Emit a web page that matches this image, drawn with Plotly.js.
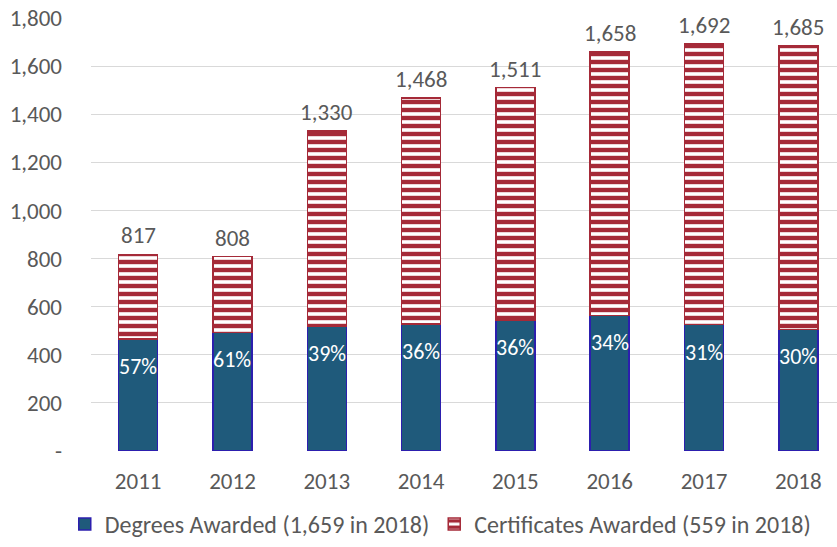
<!DOCTYPE html>
<html>
<head>
<meta charset="utf-8">
<script src="https://cdn.plot.ly/plotly-3.0.1.min.js"></script>
<style>html,body{margin:0;padding:0;background:#fff;}#chart{width:837px;height:547px;}</style>
</head>
<body>
<div id="chart"></div>
<script>
const years = ['2011','2012','2013','2014','2015','2016','2017','2018'];
const degrees = [466, 493, 519, 528, 544, 564, 525, 506];
const certificates = [351, 315, 811, 940, 967, 1094, 1167, 1179];
const pctLabels = ['57%','61%','39%','36%','36%','34%','31%','30%'];
const totalLabels = ['817','808','1,330','1,468','1,511','1,658','1,692','1,685'];
const yTickVals = [0,200,400,600,800,1000,1200,1400,1600,1800];
const yTickText = ['-','200','400','600','800','1,000','1,200','1,400','1,600','1,800'];
const legendNames = ['Degrees Awarded (1,659 in 2018)', 'Certificates Awarded (559 in 2018)'];

const FONT = 'Carlito, Calibri, Lato, sans-serif';
const GREY = '#595959';
const FS = 23;

const totals = degrees.map((d, i) => d + certificates[i]);

const traces = [
  {
    type: 'bar', x: years, y: degrees, name: legendNames[0],
    width: 0.414,
    marker: {color: '#1F5A7B', line: {color: '#2C1FAE', width: 1.5}},
    hoverinfo: 'skip'
  },
  {
    type: 'bar', x: years, y: certificates, name: legendNames[1],
    width: 0.414,
    marker: {
      color: '#FFFFFF',
      line: {color: '#A52A38', width: 1.5},
      pattern: {shape: '-', fgcolor: '#A52A38', bgcolor: '#FFFFFF', size: 8, solidity: 0.55, fillmode: 'replace'}
    },
    hoverinfo: 'skip'
  }
];

const annotations = [];
years.forEach((yr, i) => {
  annotations.push({
    x: i, y: totals[i], xref: 'x', yref: 'y', text: totalLabels[i],
    showarrow: false, yanchor: 'bottom', yshift: 3,
    font: {family: FONT, size: FS, color: GREY}
  });
  annotations.push({
    x: i, y: degrees[i], xref: 'x', yref: 'y', text: pctLabels[i],
    showarrow: false, yanchor: 'top', yshift: -12,
    font: {family: FONT, size: 22, color: '#FFFFFF'}
  });
});

const layout = {
  width: 837, height: 547,
  margin: {l: 91, r: 0, t: 18, b: 96, pad: 0},
  paper_bgcolor: '#FFFFFF', plot_bgcolor: '#FFFFFF',
  barmode: 'stack',
  font: {family: FONT, color: GREY, size: FS},
  xaxis: {
    type: 'category', range: [-0.5, 7.41],
    showgrid: false, zeroline: false, showline: false, ticks: '',
    tickfont: {family: FONT, size: FS, color: GREY}, ticklabelstandoff: 14
  },
  yaxis: {
    range: [0, 1800], tickvals: yTickVals, ticktext: yTickText,
    showgrid: true, gridcolor: '#D9D9D9', gridwidth: 1,
    zeroline: false, showline: false, ticks: '',
    tickfont: {family: FONT, size: FS, color: GREY}, ticklabelstandoff: 28
  },
  showlegend: true,
  legend: {
    orientation: 'h', traceorder: 'normal',
    x: 0.526, xanchor: 'center', xref: 'container',
    y: -0.018, yanchor: 'bottom', yref: 'container',
    font: {family: FONT, size: 24, color: GREY},
    itemwidth: 30, tracegroupgap: 0
  },
  annotations: annotations
};

Plotly.newPlot('chart', traces, layout, {displayModeBar: false, staticPlot: true});
</script>
</body>
</html>
